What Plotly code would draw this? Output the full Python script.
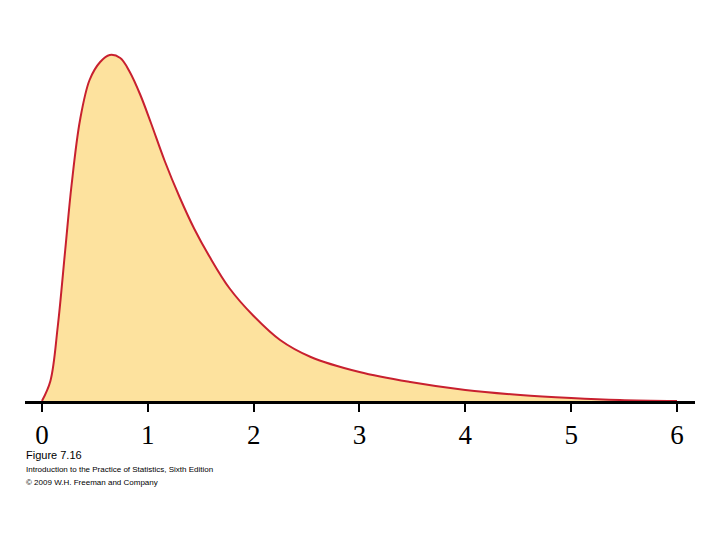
import plotly.graph_objects as go

x_vals = [0, 0.08, 0.15, 0.22, 0.28, 0.36, 0.45, 0.55, 0.64, 0.74, 0.83, 0.93, 1.03, 1.16, 1.30, 1.44, 1.58, 1.77, 2.0, 2.25, 2.54, 3.0, 3.48, 4.0, 4.52, 5.0, 5.46, 6.0]
density = [0, 20, 75, 151, 216, 281, 321, 339, 346, 343, 329, 306, 278, 240, 204, 172, 145, 113, 85, 61, 44, 29, 19, 11, 6, 3, 1, 0]
tick_vals = [0, 1, 2, 3, 4, 5, 6]

fig = go.Figure(go.Scatter(x=x_vals, y=density, mode="lines", line=dict(color="#C8202F", width=2, shape="spline"),
                           fill="tozeroy", fillcolor="#FDE29E", hoverinfo="skip"))
fig.update_layout(width=720, height=540, margin=dict(l=17, r=33, t=32, b=147),
                  plot_bgcolor="white", paper_bgcolor="white", showlegend=False)
fig.update_xaxes(range=[-0.16, 6.17], tickvals=tick_vals, ticks="outside", ticklen=8, tickwidth=2, tickcolor="black",
                 showline=True, linecolor="black", linewidth=3, showgrid=False, zeroline=False,
                 tickfont=dict(family="Liberation Serif", size=27, color="black"))
fig.update_yaxes(range=[0, 361], visible=False)
for ypix, t, s in [(455, "Figure 7.16", 11), (469, "Introduction to the Practice of Statistics, Sixth Edition", 8), (482, "© 2009 W.H. Freeman and Company", 8)]:
    fig.add_annotation(x=(24 - 25) / 670, y=(401 - ypix) / 361, xref="paper", yref="paper", text=t, showarrow=False,
                       xanchor="left", yanchor="middle", font=dict(family="Liberation Sans", size=s, color="black"))
fig.write_html("out.html")
